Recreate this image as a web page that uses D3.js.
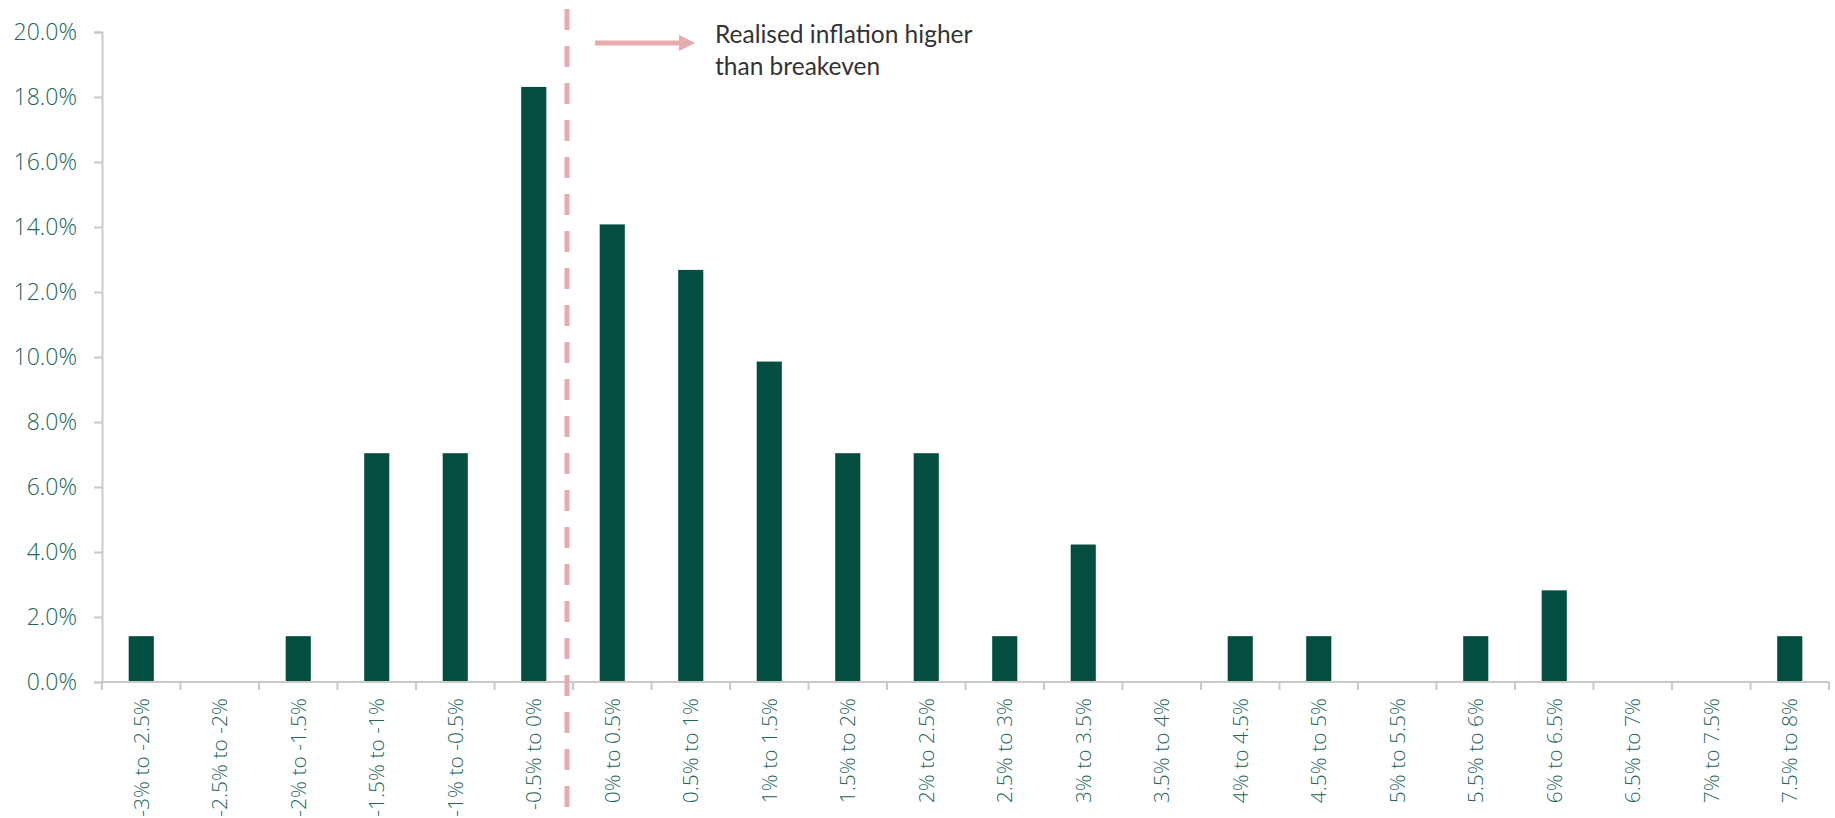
<!DOCTYPE html>
<html>
<head>
<meta charset="utf-8">
<script src="https://cdn.jsdelivr.net/npm/d3@7"></script>
<style>
  body { margin: 0; background: #fff; }
  .tick-label { font-family: 'Open Sans', sans-serif; font-weight: 300; font-size: 23px; fill: #22665a; }
  .xlabel { font-size: 21px; }
  .note { font-family: Lato, sans-serif; font-size: 24.5px; fill: #333; }
</style>
</head>
<body>
<div id="chart"></div>
<script>
// Data (share of observations, %)
const categories = ['-3% to -2.5%', '-2.5% to -2%', '-2% to -1.5%', '-1.5% to -1%', '-1% to -0.5%', '-0.5% to 0%',
  '0% to 0.5%', '0.5% to 1%', '1% to 1.5%', '1.5% to 2%', '2% to 2.5%', '2.5% to 3%', '3% to 3.5%', '3.5% to 4%',
  '4% to 4.5%', '4.5% to 5%', '5% to 5.5%', '5.5% to 6%', '6% to 6.5%', '6.5% to 7%', '7% to 7.5%', '7.5% to 8%'];
const values = [1.41, 0, 1.41, 7.04, 7.04, 18.31, 14.08, 12.68, 9.86, 7.04, 7.04, 1.41, 4.23, 0,
  1.41, 1.41, 0, 1.41, 2.82, 0, 0, 1.41];
const yTicks = [0, 2, 4, 6, 8, 10, 12, 14, 16, 18, 20];
const breakevenAfter = '-0.5% to 0%'; // dashed line sits after this bucket
const noteLines = ['Realised inflation higher', 'than breakeven'];

const width = 1835;
const height = 818;
const margin = { top: 32, right: 6, bottom: 136, left: 102 };

const svg = d3.select('#chart')
  .append('svg')
  .attr('width', width)
  .attr('height', height);

const x = d3.scaleBand()
  .domain(categories)
  .range([margin.left, width - margin.right])
  .paddingInner(0.68)
  .paddingOuter(0.34);

const y = d3.scaleLinear()
  .domain([0, 20])
  .range([height - margin.bottom, margin.top]);

const axisColor = '#c9c9c9';

// y axis
const yAxis = svg.append('g')
  .attr('transform', `translate(${margin.left},0)`)
  .call(d3.axisLeft(y).tickValues(yTicks).tickSize(8).tickPadding(17)
    .tickFormat(d => d.toFixed(1) + '%'));
yAxis.select('.domain').attr('stroke', axisColor).attr('stroke-width', 2);
yAxis.selectAll('.tick line').attr('stroke', axisColor).attr('stroke-width', 2);
yAxis.selectAll('.tick text').attr('class', 'tick-label').attr('font-family', null).attr('font-size', null);

// bars
svg.selectAll('rect.bar')
  .data(values)
  .enter()
  .append('rect')
  .attr('class', 'bar')
  .attr('x', (d, i) => x(categories[i]))
  .attr('y', d => y(d))
  .attr('width', x.bandwidth())
  .attr('height', d => y(0) - y(d))
  .attr('fill', '#034e40');

// x axis line + boundary ticks
const step = x.step();
const slotStart = c => x(c) - step * x.paddingInner() / 2;
const boundaries = categories.map(slotStart).concat([slotStart(categories[categories.length - 1]) + step]);

svg.append('line')
  .attr('x1', margin.left)
  .attr('x2', boundaries[boundaries.length - 1])
  .attr('y1', y(0))
  .attr('y2', y(0))
  .attr('stroke', axisColor)
  .attr('stroke-width', 2);

svg.selectAll('line.xtick')
  .data(boundaries)
  .enter()
  .append('line')
  .attr('class', 'xtick')
  .attr('x1', d => d)
  .attr('x2', d => d)
  .attr('y1', y(0))
  .attr('y2', y(0) + 8)
  .attr('stroke', axisColor)
  .attr('stroke-width', 2);

svg.selectAll('text.xlabel')
  .data(categories)
  .enter()
  .append('text')
  .attr('class', 'tick-label xlabel')
  .attr('text-anchor', 'end')
  .attr('dy', '0.35em')
  .attr('transform', d => `translate(${x(d) + x.bandwidth() / 2},${y(0) + 16}) rotate(-90)`)
  .text(d => d);

// breakeven dashed line
const lineX = slotStart(breakevenAfter) + step - 6;
svg.append('line')
  .attr('x1', lineX)
  .attr('x2', lineX)
  .attr('y1', 9)
  .attr('y2', height)
  .attr('stroke', '#e8a9af')
  .attr('stroke-width', 5)
  .attr('stroke-dasharray', '21 16');

// arrow + note
const arrowY = 43;
svg.append('line')
  .attr('x1', lineX + 28)
  .attr('x2', lineX + 114)
  .attr('y1', arrowY)
  .attr('y2', arrowY)
  .attr('stroke', '#e8a9af')
  .attr('stroke-width', 5);
svg.append('path')
  .attr('d', `M${lineX + 112},${arrowY - 8}L${lineX + 128},${arrowY}L${lineX + 112},${arrowY + 8}Z`)
  .attr('fill', '#e8a9af');

svg.append('text')
  .attr('class', 'note')
  .attr('x', lineX + 148)
  .attr('y', arrowY)
  .selectAll('tspan')
  .data(noteLines)
  .enter()
  .append('tspan')
  .attr('x', lineX + 148)
  .attr('dy', (d, i) => i === 0 ? 0 : 32)
  .text(d => d);
</script>
</body>
</html>
